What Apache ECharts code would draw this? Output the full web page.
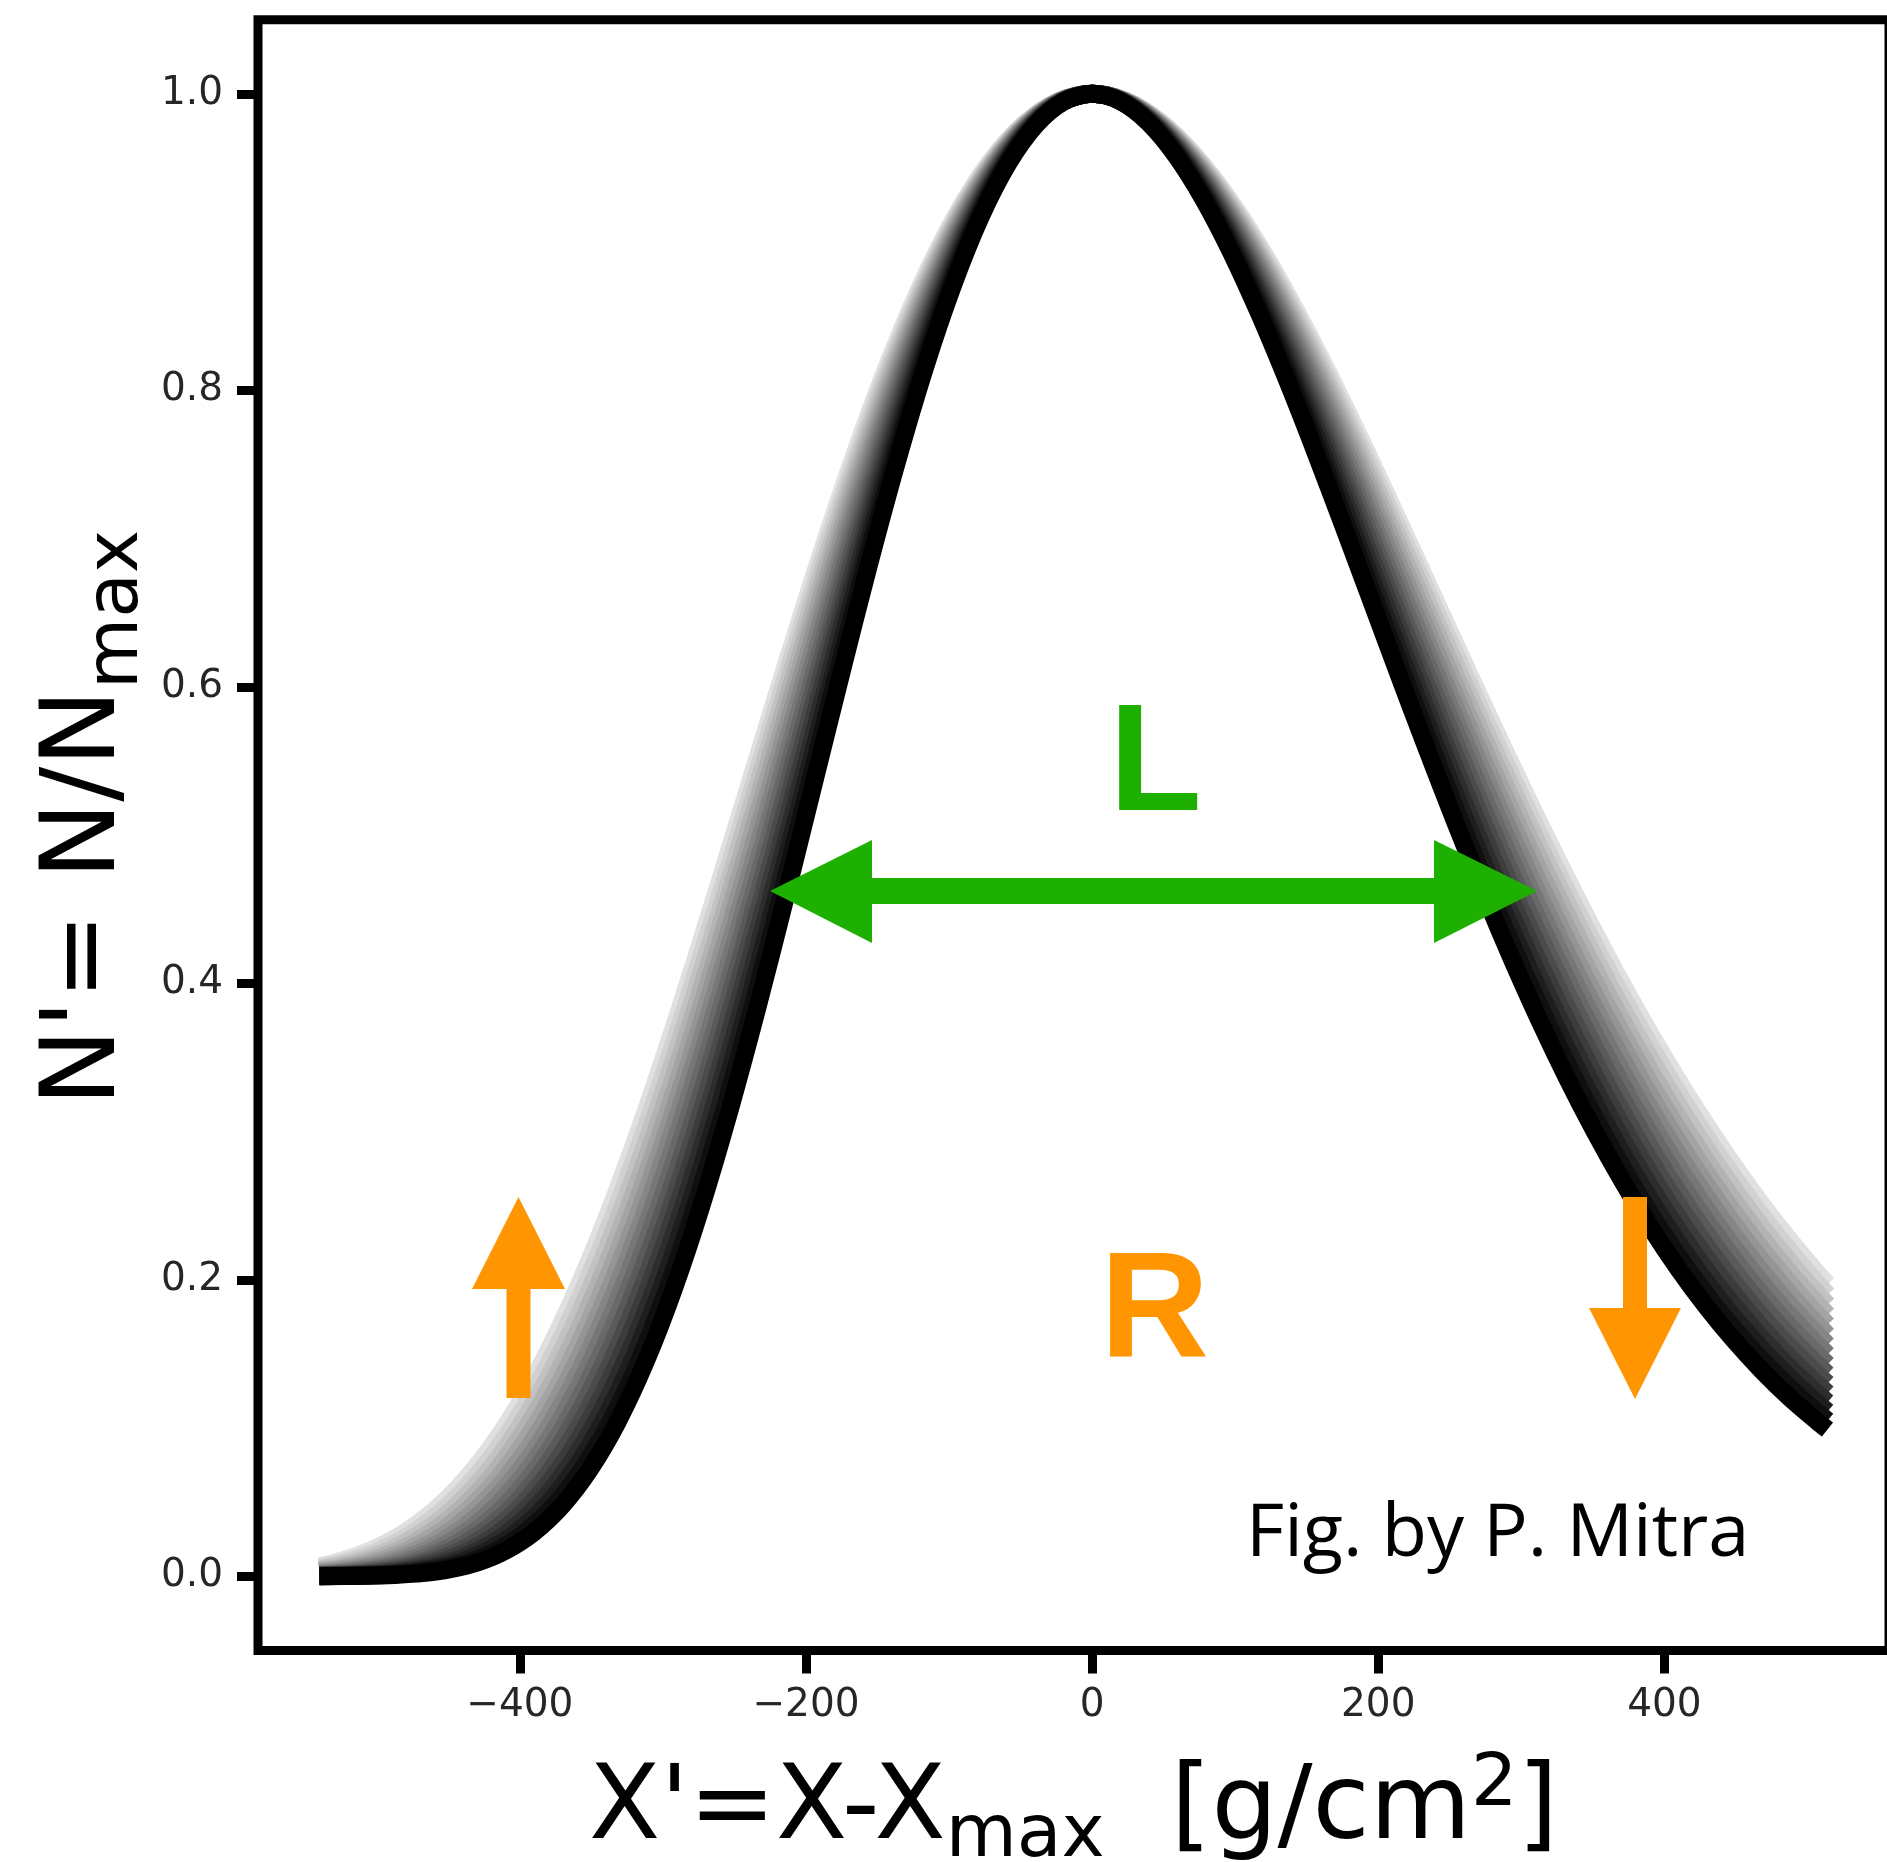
<!DOCTYPE html>
<html>
<head>
<meta charset="utf-8">
<title>Shower profiles N' vs X'</title>
<script src="https://cdn.jsdelivr.net/npm/echarts@6/dist/echarts.min.js"></script>
<style>
  html, body { margin: 0; padding: 0; background: #ffffff; overflow: hidden; }
  #chart { width: 1887px; height: 1862px; }
</style>
</head>
<body>
<div id="chart"></div>
<script>
// ---------------------------------------------------------------
// Normalised longitudinal profiles N' = N/Nmax against X' = X - Xmax.
// Each profile is listed as the depths X' (g/cm^2) at which it passes
// the shared N' heights in levelN; rising side first, then falling side.
// null = that height is not reached inside the plotted depth range.
// ---------------------------------------------------------------
const levelN = [0.0003, 0.0009, 0.0021, 0.0048, 0.0095, 0.0175, 0.0298, 0.0476, 0.0722, 0.1044,
                0.1448, 0.1935, 0.2501, 0.3138, 0.3833, 0.4570, 0.5328, 0.6085, 0.6821, 0.7514,
                0.8147, 0.8701, 0.9167, 0.9532, 0.9793, 0.9949, 1.0,
                0.9951, 0.9809, 0.9584, 0.9286, 0.8925, 0.8513, 0.8063, 0.7584, 0.7087, 0.6583,
                0.6077, 0.5580, 0.5095, 0.4628, 0.4183, 0.3763, 0.3370, 0.3005, 0.2668, 0.2359,
                0.2078, 0.1823, 0.1594, 0.1389, 0.1206, 0.1044];

// narrowest (darkest) profile first, widest (lightest) last
const depthP01 = [-507, -487.5, -468, -448.5, -429, -409.5, -390, -370.5, -351, -331.5, -312, -292.5, -273, -253.5, -234, -214.5, -195, -175.5, -156, -136.5, -117, -97.5, -78, -58.5, -39, -19.5, 0,
                  19.5, 39, 58.5, 78, 97.5, 117, 136.5, 156, 175.5, 195, 214.5, 234, 253.5, 273, 292.5, 312, 331.5, 351, 370.5, 390, 409.5, 429, 448.5, 468, 487.5, 507];
const depthP02 = [-514.8, -495, -475.2, -455.4, -435.6, -415.8, -396, -376.2, -356.4, -336.6, -316.8, -297, -277.2, -257.4, -237.6, -217.8, -198, -178.2, -158.4, -138.6, -118.8, -99, -79.2, -59.4, -39.6, -19.8, 0,
                  19.8, 39.6, 59.4, 79.2, 99, 118.8, 138.6, 158.4, 178.2, 198, 217.8, 237.6, 257.4, 277.2, 297, 316.8, 336.6, 356.4, 376.2, 396, 415.8, 435.6, 455.4, 475.2, 495, null];
const depthP03 = [-522.6, -502.5, -482.4, -462.3, -442.2, -422.1, -402, -381.9, -361.8, -341.7, -321.6, -301.5, -281.4, -261.3, -241.2, -221.1, -201, -180.9, -160.8, -140.7, -120.6, -100.5, -80.4, -60.3, -40.2, -20.1, 0,
                  20.1, 40.2, 60.3, 80.4, 100.5, 120.6, 140.7, 160.8, 180.9, 201, 221.1, 241.2, 261.3, 281.4, 301.5, 321.6, 341.7, 361.8, 381.9, 402, 422.1, 442.2, 462.3, 482.4, 502.5, null];
const depthP04 = [-530.4, -510, -489.6, -469.2, -448.8, -428.4, -408, -387.6, -367.2, -346.8, -326.4, -306, -285.6, -265.2, -244.8, -224.4, -204, -183.6, -163.2, -142.8, -122.4, -102, -81.6, -61.2, -40.8, -20.4, 0,
                  20.4, 40.8, 61.2, 81.6, 102, 122.4, 142.8, 163.2, 183.6, 204, 224.4, 244.8, 265.2, 285.6, 306, 326.4, 346.8, 367.2, 387.6, 408, 428.4, 448.8, 469.2, 489.6, 510, null];
const depthP05 = [-538.2, -517.5, -496.8, -476.1, -455.4, -434.7, -414, -393.3, -372.6, -351.9, -331.2, -310.5, -289.8, -269.1, -248.4, -227.7, -207, -186.3, -165.6, -144.9, -124.2, -103.5, -82.8, -62.1, -41.4, -20.7, 0,
                  20.7, 41.4, 62.1, 82.8, 103.5, 124.2, 144.9, 165.6, 186.3, 207, 227.7, 248.4, 269.1, 289.8, 310.5, 331.2, 351.9, 372.6, 393.3, 414, 434.7, 455.4, 476.1, 496.8, null, null];
const depthP06 = [null, -525, -504, -483, -462, -441, -420, -399, -378, -357, -336, -315, -294, -273, -252, -231, -210, -189, -168, -147, -126, -105, -84, -63, -42, -21, 0,
                  21, 42, 63, 84, 105, 126, 147, 168, 189, 210, 231, 252, 273, 294, 315, 336, 357, 378, 399, 420, 441, 462, 483, 504, null, null];
const depthP07 = [null, -532.5, -511.2, -489.9, -468.6, -447.3, -426, -404.7, -383.4, -362.1, -340.8, -319.5, -298.2, -276.9, -255.6, -234.3, -213, -191.7, -170.4, -149.1, -127.8, -106.5, -85.2, -63.9, -42.6, -21.3, 0,
                  21.3, 42.6, 63.9, 85.2, 106.5, 127.8, 149.1, 170.4, 191.7, 213, 234.3, 255.6, 276.9, 298.2, 319.5, 340.8, 362.1, 383.4, 404.7, 426, 447.3, 468.6, 489.9, 511.2, null, null];
const depthP08 = [null, null, -518.4, -496.8, -475.2, -453.6, -432, -410.4, -388.8, -367.2, -345.6, -324, -302.4, -280.8, -259.2, -237.6, -216, -194.4, -172.8, -151.2, -129.6, -108, -86.4, -64.8, -43.2, -21.6, 0,
                  21.6, 43.2, 64.8, 86.4, 108, 129.6, 151.2, 172.8, 194.4, 216, 237.6, 259.2, 280.8, 302.4, 324, 345.6, 367.2, 388.8, 410.4, 432, 453.6, 475.2, 496.8, null, null, null];
const depthP09 = [null, null, -525.6, -503.7, -481.8, -459.9, -438, -416.1, -394.2, -372.3, -350.4, -328.5, -306.6, -284.7, -262.8, -240.9, -219, -197.1, -175.2, -153.3, -131.4, -109.5, -87.6, -65.7, -43.8, -21.9, 0,
                  21.9, 43.8, 65.7, 87.6, 109.5, 131.4, 153.3, 175.2, 197.1, 219, 240.9, 262.8, 284.7, 306.6, 328.5, 350.4, 372.3, 394.2, 416.1, 438, 459.9, 481.8, 503.7, null, null, null];
const depthP10 = [null, null, -532.8, -510.6, -488.4, -466.2, -444, -421.8, -399.6, -377.4, -355.2, -333, -310.8, -288.6, -266.4, -244.2, -222, -199.8, -177.6, -155.4, -133.2, -111, -88.8, -66.6, -44.4, -22.2, 0,
                  22.2, 44.4, 66.6, 88.8, 111, 133.2, 155.4, 177.6, 199.8, 222, 244.2, 266.4, 288.6, 310.8, 333, 355.2, 377.4, 399.6, 421.8, 444, 466.2, 488.4, 510.6, null, null, null];
const depthP11 = [null, null, null, -517.5, -495, -472.5, -450, -427.5, -405, -382.5, -360, -337.5, -315, -292.5, -270, -247.5, -225, -202.5, -180, -157.5, -135, -112.5, -90, -67.5, -45, -22.5, 0,
                  22.5, 45, 67.5, 90, 112.5, 135, 157.5, 180, 202.5, 225, 247.5, 270, 292.5, 315, 337.5, 360, 382.5, 405, 427.5, 450, 472.5, 495, null, null, null, null];
const depthP12 = [null, null, null, -524.4, -501.6, -478.8, -456, -433.2, -410.4, -387.6, -364.8, -342, -319.2, -296.4, -273.6, -250.8, -228, -205.2, -182.4, -159.6, -136.8, -114, -91.2, -68.4, -45.6, -22.8, 0,
                  22.8, 45.6, 68.4, 91.2, 114, 136.8, 159.6, 182.4, 205.2, 228, 250.8, 273.6, 296.4, 319.2, 342, 364.8, 387.6, 410.4, 433.2, 456, 478.8, 501.6, null, null, null, null];
const depthP13 = [null, null, null, -531.3, -508.2, -485.1, -462, -438.9, -415.8, -392.7, -369.6, -346.5, -323.4, -300.3, -277.2, -254.1, -231, -207.9, -184.8, -161.7, -138.6, -115.5, -92.4, -69.3, -46.2, -23.1, 0,
                  23.1, 46.2, 69.3, 92.4, 115.5, 138.6, 161.7, 184.8, 207.9, 231, 254.1, 277.2, 300.3, 323.4, 346.5, 369.6, 392.7, 415.8, 438.9, 462, 485.1, 508.2, null, null, null, null];
const depthP14 = [null, null, null, -538.2, -514.8, -491.4, -468, -444.6, -421.2, -397.8, -374.4, -351, -327.6, -304.2, -280.8, -257.4, -234, -210.6, -187.2, -163.8, -140.4, -117, -93.6, -70.2, -46.8, -23.4, 0,
                  23.4, 46.8, 70.2, 93.6, 117, 140.4, 163.8, 187.2, 210.6, 234, 257.4, 280.8, 304.2, 327.6, 351, 374.4, 397.8, 421.2, 444.6, 468, 491.4, null, null, null, null, null];
const depthP15 = [null, null, null, null, -521.4, -497.7, -474, -450.3, -426.6, -402.9, -379.2, -355.5, -331.8, -308.1, -284.4, -260.7, -237, -213.3, -189.6, -165.9, -142.2, -118.5, -94.8, -71.1, -47.4, -23.7, 0,
                  23.7, 47.4, 71.1, 94.8, 118.5, 142.2, 165.9, 189.6, 213.3, 237, 260.7, 284.4, 308.1, 331.8, 355.5, 379.2, 402.9, 426.6, 450.3, 474, 497.7, null, null, null, null, null];
const depthP16 = [null, null, null, null, -528, -504, -480, -456, -432, -408, -384, -360, -336, -312, -288, -264, -240, -216, -192, -168, -144, -120, -96, -72, -48, -24, 0,
                  24, 48, 72, 96, 120, 144, 168, 192, 216, 240, 264, 288, 312, 336, 360, 384, 408, 432, 456, 480, 504, null, null, null, null, null];

// every profile is drawn from the same first depth to the same last depth
const firstDepth = -540;
const lastDepth = 514;
const firstN = [0.0000, 0.0001, 0.0001, 0.0002, 0.0003, 0.0004, 0.0006, 0.0009, 0.0012, 0.0016, 0.0022, 0.0028, 0.0036, 0.0045, 0.0056, 0.0068];
const lastN  = [0.0990, 0.1050, 0.1111, 0.1173, 0.1235, 0.1299, 0.1364, 0.1429, 0.1495, 0.1561, 0.1628, 0.1696, 0.1763, 0.1831, 0.1900, 0.1969];

// axis ticks
const xTickValues = [-400, -200, 0, 200, 400];
const yTickValues = [0, 0.2, 0.4, 0.6, 0.8, 1.0];

// ---------------------------------------------------------------
// styling
// ---------------------------------------------------------------
const profileDepths = [depthP01, depthP02, depthP03, depthP04, depthP05, depthP06, depthP07, depthP08,
                       depthP09, depthP10, depthP11, depthP12, depthP13, depthP14, depthP15, depthP16];
// grey ramp: black for the narrowest profile, light grey for the widest
const greyRamp = ['#000000', '#0f0f0f', '#1e1e1e', '#2d2d2d', '#3c3c3c', '#4b4b4b', '#5a5a5a', '#696969',
                  '#777777', '#868686', '#959595', '#a4a4a4', '#b3b3b3', '#c2c2c2', '#d1d1d1', '#e0e0e0'];

function profilePoints(depths, k) {
  const pts = [[firstDepth, firstN[k]]];
  depths.forEach(function (x, j) {
    if (x !== null) pts.push([x, levelN[j]]);
  });
  pts.push([lastDepth, lastN[k]]);
  return pts;
}

// lightest drawn first so the darker profiles sit on top
const series = [];
for (let k = profileDepths.length - 1; k >= 0; k--) {
  series.push({
    type: 'line',
    data: profilePoints(profileDepths[k], k),
    showSymbol: false,
    symbol: 'none',
    smooth: 0.3,
    silent: true,
    lineStyle: { color: greyRamp[k], width: 18, cap: 'butt', join: 'round' },
    z: 2
  });
}

const tickFont = 'DejaVu Sans';
const titleFont = 'DejaVu Sans';

const chart = echarts.init(document.getElementById('chart'), null, { renderer: 'canvas' });

chart.setOption({
  animation: false,
  backgroundColor: '#ffffff',
  grid: {
    left: 258, top: 19.7, width: 1631, height: 1630.7,
    show: true, borderColor: '#000000', borderWidth: 9, backgroundColor: 'transparent',
    containLabel: false, outerBoundsMode: 'none'
  },
  xAxis: {
    type: 'value', min: -583, max: 557,
    axisLine: { show: false, onZero: false },
    splitLine: { show: false },
    axisTick: { show: true, customValues: xTickValues, length: 23, lineStyle: { color: '#000000', width: 9 } },
    axisLabel: {
      customValues: xTickValues, margin: 36,
      fontFamily: tickFont, fontSize: 39, color: '#262626',
      formatter: function (v) { return String(v).replace('-', '\u2212'); }
    },
    name: "{m|X'=X-X}{s|max}{m|  [g/cm}{p|2}{m|]}",
    nameLocation: 'middle', nameGap: 99, nameMoveOverlap: false,
    nameTextStyle: {
      fontFamily: titleFont, color: '#000000',
      rich: {
        m: { fontFamily: titleFont, fontSize: 104, lineHeight: 124, color: '#000000' },
        s: { fontFamily: titleFont, fontSize: 73, lineHeight: 73, verticalAlign: 'bottom', color: '#000000' },
        p: { fontFamily: titleFont, fontSize: 73, lineHeight: 73, verticalAlign: 'top', color: '#000000' }
      }
    }
  },
  yAxis: {
    type: 'value', min: -0.05, max: 1.05,
    axisLine: { show: false, onZero: false },
    splitLine: { show: false },
    axisTick: { show: true, customValues: yTickValues, length: 21, lineStyle: { color: '#000000', width: 9 } },
    axisLabel: {
      customValues: yTickValues, margin: 35,
      fontFamily: tickFont, fontSize: 39, color: '#262626',
      formatter: function (v) { return v.toFixed(1); }
    },
    name: "{m|N'= N/N}{s|max}",
    nameLocation: 'middle', nameGap: 103, nameMoveOverlap: false,
    nameTextStyle: {
      fontFamily: titleFont, color: '#000000', padding: [0, 0, 0, 34],
      rich: {
        m: { fontFamily: titleFont, fontSize: 104, lineHeight: 136, color: '#000000' },
        s: { fontFamily: titleFont, fontSize: 73, lineHeight: 73, verticalAlign: 'bottom', color: '#000000' }
      }
    }
  },
  series: series
});

// annotation glyphs: width arrow (L), tail arrows (R), credit line
const green = '#1eb000';
const orange = '#ff9500';
chart.setOption({
  graphic: [
    {
      type: 'polygon', silent: true, z: 10,
      shape: { points: [[770, 891], [872, 840], [872, 878], [1434, 878], [1434, 840], [1537, 891],
                        [1434, 943], [1434, 904], [872, 904], [872, 943]] },
      style: { fill: green }
    },
    {
      type: 'polygon', silent: true, z: 10,
      shape: { points: [[518.5, 1197], [565, 1289], [530.5, 1289], [530.5, 1398], [506.5, 1398], [506.5, 1289], [472, 1289]] },
      style: { fill: orange }
    },
    {
      type: 'polygon', silent: true, z: 10,
      shape: { points: [[1623, 1197], [1647, 1197], [1647, 1308], [1681, 1308], [1635, 1399], [1589, 1308], [1623, 1308]] },
      style: { fill: orange }
    },
    {
      type: 'text', silent: true, z: 10,
      style: { text: 'L', x: 1109, y: 768, textAlign: 'left', textVerticalAlign: 'middle',
               font: 'bold 152px "Liberation Sans"', fill: green }
    },
    {
      type: 'text', silent: true, z: 10,
      style: { text: 'R', x: 1100, y: 1314, textAlign: 'left', textVerticalAlign: 'middle',
               font: 'bold 151px "Liberation Sans"', fill: orange }
    },
    {
      type: 'text', silent: true, z: 10,
      style: { text: 'Fig. by P. Mitra', x: 1246, y: 1535, textAlign: 'left', textVerticalAlign: 'middle',
               font: '74px "Open Sans"', fill: '#000000' }
    }
  ]
});
</script>
</body>
</html>
